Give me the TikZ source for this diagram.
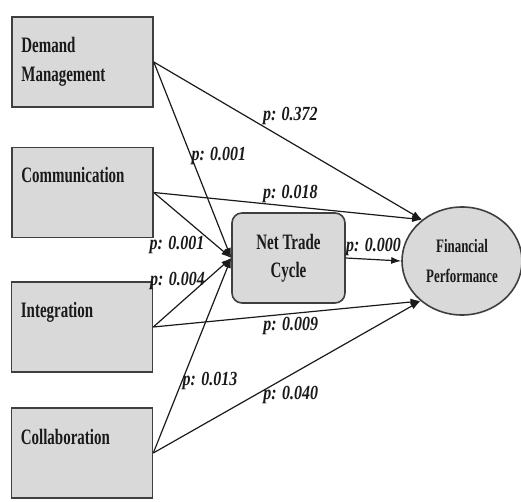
\documentclass[tikz,border=0pt]{standalone}
\usepackage{fontspec}
\setmainfont{Liberation Serif}[FakeStretch=0.68]
\newfontfamily\plabelfont{Liberation Serif}[FakeStretch=0.8]
\usepackage{tikz}
\usetikzlibrary{arrows.meta,positioning,shapes.geometric}
\definecolor{boxfill}{HTML}{D9D9D9}
\definecolor{boxline}{HTML}{3F3F3F}
\definecolor{inkdark}{HTML}{1A1A1A}

\tikzset{
  srcbox/.style={draw=boxline, fill=boxfill, line width=1.6pt,
    minimum width=141pt, minimum height=90pt, inner sep=0pt},
  boxtext/.style={anchor=north west, inner sep=0pt, align=left, text=inkdark,
    font=\fontsize{22}{29}\selectfont\bfseries},
  midbox/.style={draw=boxline, fill=boxfill, line width=1.6pt, rounded corners=10pt,
    minimum width=113pt, minimum height=90pt, align=center, text=inkdark,
    font=\fontsize{22}{28}\selectfont\bfseries},
  outcome/.style={ellipse, draw=boxline, fill=boxfill, line width=1.6pt,
    minimum width=120pt, minimum height=108pt, inner sep=0pt, align=center, text=inkdark,
    font=\fontsize{19}{30}\selectfont\bfseries},
  link/.style={draw=inkdark, line width=1.2pt, -{Latex[length=10pt,width=7pt]}},
  plabel/.style={inner sep=0pt, text=inkdark, font=\plabelfont\fontsize{20}{24}\selectfont\bfseries\itshape}
}

\begin{document}
\begin{tikzpicture}[x=1pt,y=-1pt]
  \useasboundingbox (0,0) rectangle (521,502);

  % drivers
  \node[srcbox] (dm) at (82.5,62) {};
  \node[srcbox] (com) at (82.5,192.5) {};
  \node[srcbox] (intg) at (82,327) {};
  \node[srcbox] (coll) at (82,453) {};
  \node[boxtext] (dmtext) at ([xshift=10pt,yshift=-21pt]dm.north west) {Demand\\Management};
  \node[boxtext] (comtext) at ([xshift=10pt,yshift=-20pt]com.north west) {Communication};
  \node[boxtext] (intgtext) at ([xshift=10pt,yshift=-21pt]intg.north west) {Integration};
  \node[boxtext] (colltext) at ([xshift=10pt,yshift=-22pt]coll.north west) {Collaboration};

  % mediator and outcome
  \node[midbox] (ntc) at (288.5,258) {Net Trade\\Cycle};
  \node[outcome] (fp) at (462,261) {Financial\\Performance};

  % paths to the net trade cycle
  \draw[link] (dm.east) -- (ntc.west) node[plabel, pos=0.48, anchor=west] (pdm) {p: 0.001};
  \draw[link] (com.east) -- (ntc.west) node[plabel, pos=0.66, anchor=north east] (pcom) {p: 0.001};
  \draw[link] (intg.east) -- (ntc.west) node[plabel, pos=0.67, anchor=east] (pintg) {p: 0.004};
  \draw[link] (coll.east) -- (ntc.west) node[plabel, pos=0.37, anchor=west] (pcoll) {p: 0.013};

  % paths to financial performance
  \draw[link] (dm.east) -- (fp.134) node[plabel, pos=0.405, anchor=south west] (pdmfp) {p: 0.372};
  \draw[link] (com.east) -- (fp.134) node[plabel, pos=0.405, anchor=south west] (pcomfp) {p: 0.018};
  \draw[link] (intg.east) -- (fp.224) node[plabel, pos=0.41, anchor=north west] (pintgfp) {p: 0.009};
  \draw[link] (coll.east) -- (fp.224) node[plabel, pos=0.41, anchor=west, yshift=-4pt] (pcollfp) {p: 0.040};
  \draw[link] (ntc.east) -- (fp.west) node[plabel, pos=0.5, anchor=south, yshift=3pt] (pntc) {p: 0.000};
\end{tikzpicture}
\end{document}
